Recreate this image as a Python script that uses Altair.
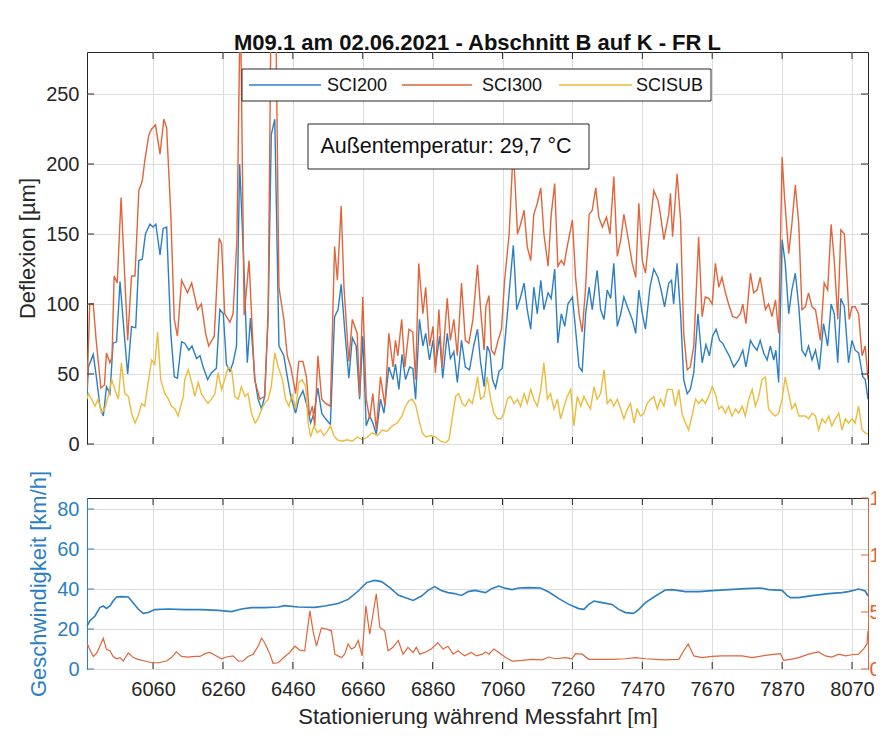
import altair as alt
import pandas as pd

FONT = "Liberation Sans"
BLUE = "#2c7fc3"
ORANGE = "#e0653a"
YELLOW = "#edbb3c"
DARK = "#262626"

series_names = ["SCI200", "SCI300", "SCISUB"]
series_colors = [BLUE, ORANGE, YELLOW]

sci200_station = [5870,5874,5888,5898,5907,5917,5926,5936,5945,5955,5965,5977,5987,5998,6010,6019,6029,6038,6051,6060,
    6068,6080,6089,6099,6111,6121,6130,6142,6151,6163,6172,6185,6195,6204,6217,6228,6242,6252,6262,6271,
    6281,6290,6300,6309,6319,6331,6340,6353,6362,6372,6381,6391,6400,6410,6422,6436,6446,6456,6470,6479,
    6491,6503,6513,6523,6534,6545,6556,6570,6582,6592,6601,6611,6623,6633,6644,6654,6663,6673,6683,6692,
    6702,6714,6724,6738,6750,6757,6767,6776,6786,6798,6807,6815,6826,6836,6844,6855,6865,6872,6884,6893,
    6906,6915,6925,6935,6947,6958,6970,6982,6993,7002,7012,7021,7029,7036,7045,7055,7064,7074,7084,7096,
    7106,7117,7127,7136,7146,7155,7165,7175,7184,7196,7205,7215,7224,7234,7244,7253,7266,7275,7285,7294,
    7304,7314,7323,7337,7347,7357,7366,7376,7385,7395,7405,7414,7424,7438,7448,7457,7467,7476,7489,7500,
    7512,7521,7531,7543,7551,7557,7567,7577,7586,7596,7605,7615,7627,7639,7650,7660,7669,7679,7689,7698,
    7708,7717,7730,7744,7756,7765,7778,7787,7797,7806,7816,7826,7835,7845,7851,7859,7869,7878,7888,7897,
    7907,7917,7926,7936,7945,7955,7965,7976,7988,8000,8010,8019,8029,8038,8048,8060,8070,8079,8089,8101,
    8108,8116]
sci200_value = [34,55,64,46,27,20,41,36,72,73,116,79,50,84,83,131,132,150,157,155,
    157,135,154,155,79,48,47,73,72,67,70,61,63,55,46,51,54,96,93,57,
    52,58,70,200,141,58,90,46,32,25,34,93,221,232,70,63,48,34,22,32,
    38,27,15,22,40,22,18,14,91,96,114,82,47,76,70,32,77,13,20,15,
    7,32,22,55,46,57,39,64,46,55,54,32,89,70,79,60,74,55,77,47,
    79,61,66,44,74,55,53,70,82,58,41,70,65,46,40,52,54,79,108,142,
    96,105,115,96,82,112,93,117,96,108,104,125,72,93,84,100,105,82,55,52,
    93,112,96,124,96,89,110,104,129,84,93,105,98,89,79,110,93,82,112,125,
    119,110,98,115,117,100,129,93,46,36,39,51,93,58,71,63,77,82,74,72,
    67,63,55,60,67,55,74,70,67,74,65,60,70,60,67,44,146,129,93,110,
    122,98,67,63,70,60,67,53,86,70,100,93,58,104,98,58,74,67,65,48,
    46,32]

sci300_station = [5870,5878,5888,5896,5910,5920,5926,5936,5942,5948,5957,5968,5987,5998,6008,6019,6029,6036,6048,6056,
    6067,6080,6091,6099,6111,6121,6130,6142,6159,6171,6188,6199,6211,6220,6236,6250,6257,6266,6281,6290,
    6301,6311,6322,6336,6352,6367,6381,6391,6400,6412,6422,6436,6446,6456,6470,6479,6491,6501,6510,6518,
    6525,6534,6545,6556,6570,6582,6590,6601,6609,6623,6633,6647,6654,6663,6673,6683,6692,6702,6714,6727,
    6738,6750,6757,6764,6775,6784,6796,6807,6815,6824,6836,6844,6855,6865,6872,6882,6891,6906,6915,6925,
    6935,6947,6958,6968,6980,6993,7002,7012,7017,7026,7033,7042,7052,7062,7071,7084,7096,7108,7117,7127,
    7136,7146,7155,7165,7175,7184,7196,7205,7215,7224,7234,7242,7251,7266,7275,7285,7294,7304,7314,7323,
    7333,7342,7352,7364,7374,7385,7395,7405,7414,7424,7438,7448,7457,7467,7476,7489,7500,7512,7519,7529,
    7543,7548,7554,7567,7577,7586,7596,7605,7615,7629,7639,7648,7658,7668,7677,7687,7696,7706,7715,7727,
    7739,7749,7756,7765,7778,7787,7797,7806,7821,7830,7840,7850,7859,7869,7876,7888,7897,7907,7917,7926,
    7936,7945,7955,7965,7979,7990,8000,8010,8019,8029,8038,8048,8056,8062,8070,8079,8089,8099,8108,8116]
sci300_value = [40,100,100,75,40,42,65,58,62,120,115,176,74,120,120,181,188,202,221,225,
    228,207,232,226,164,89,77,117,108,115,96,100,79,70,77,147,143,93,87,93,
    145,320,92,131,46,32,34,93,330,330,112,89,63,55,36,59,59,48,20,27,
    13,63,32,29,27,141,117,170,112,59,89,79,34,105,32,18,36,10,48,27,
    79,55,74,63,89,55,82,80,46,129,93,112,70,84,51,96,55,104,74,89,
    63,115,74,72,89,128,96,67,98,106,67,64,74,82,117,150,212,150,157,167,
    141,131,164,172,183,150,127,164,186,127,131,128,141,160,119,93,80,112,164,167,
    183,162,155,162,150,191,134,146,164,150,129,119,172,131,122,155,181,174,164,146,
    164,179,148,193,160,79,53,55,70,148,91,105,104,100,129,112,119,108,100,91,
    90,93,100,86,122,108,110,119,96,100,91,103,79,205,176,136,157,185,157,96,
    98,108,98,96,74,115,110,157,131,89,153,150,117,89,98,98,93,63,70,46]

scisub_station = [5870,5874,5883,5893,5902,5912,5921,5931,5941,5950,5960,5969,5979,5989,5998,6008,6017,6027,6036,6046,
    6056,6065,6073,6082,6094,6104,6113,6123,6132,6147,6151,6161,6171,6180,6190,6199,6209,6218,6228,6238,
    6247,6257,6266,6276,6286,6295,6305,6314,6324,6333,6343,6353,6362,6372,6381,6391,6400,6410,6420,6432,
    6441,6451,6460,6470,6479,6489,6499,6506,6513,6523,6532,6542,6551,6561,6570,6580,6590,6604,6618,6633,
    6647,6662,6676,6690,6705,6719,6733,6748,6762,6776,6786,6796,6805,6815,6824,6834,6844,6858,6872,6887,
    6901,6911,6920,6930,6939,6949,6958,6968,6978,6987,6993,7002,7012,7021,7031,7040,7050,7060,7069,7079,
    7088,7098,7108,7117,7127,7136,7146,7155,7165,7175,7184,7194,7203,7213,7223,7232,7242,7251,7261,7270,
    7280,7290,7299,7309,7318,7328,7337,7347,7357,7366,7376,7385,7395,7405,7414,7424,7433,7443,7452,7462,
    7472,7481,7491,7500,7510,7519,7529,7539,7553,7562,7572,7581,7591,7600,7610,7620,7629,7639,7648,7658,
    7668,7677,7687,7696,7706,7715,7725,7735,7744,7754,7763,7773,7783,7792,7802,7811,7821,7830,7840,7850,
    7859,7869,7878,7888,7897,7907,7917,7926,7936,7945,7955,7965,7974,7984,7993,8003,8012,8022,8032,8041,
    8051,8060,8070,8079,8089,8099,8108,8116]
scisub_value = [32,36,32,27,32,22,25,34,46,39,32,58,36,34,22,15,20,29,27,44,
    60,57,80,46,36,32,27,25,20,34,46,53,44,34,44,36,32,29,32,36,
    51,39,46,55,53,34,32,41,34,36,22,15,18,25,29,32,41,65,55,46,
    32,27,36,25,44,46,41,15,5,13,8,10,6,9,13,6,3,2,3,2,
    5,3,5,8,6,10,9,13,15,20,27,31,32,28,18,8,5,6,5,2,
    1,3,18,34,36,29,27,32,29,39,48,32,34,48,32,22,18,18,22,32,
    34,29,32,27,36,29,39,32,27,39,58,32,36,25,32,18,27,34,39,13,
    34,27,34,29,25,41,32,36,53,29,32,27,32,25,18,25,29,15,25,20,
    22,29,32,34,25,32,27,39,39,27,39,22,15,10,20,32,29,32,29,34,
    41,36,25,27,22,27,20,25,22,27,20,32,39,27,34,46,48,25,22,20,
    22,32,48,36,25,29,20,20,20,18,22,20,10,18,15,20,13,18,22,10,
    18,15,18,15,27,10,8,7]

speed_station = [5870,5878,5893,5907,5917,5926,5936,5945,5955,5969,5989,6003,6017,6032,6046,6065,6104,6151,6199,6247,
    6286,6314,6343,6381,6420,6439,6477,6525,6554,6592,6621,6650,6674,6697,6717,6741,6765,6784,6808,6832,
    6851,6870,6889,6908,6927,6947,6966,6985,7016,7035,7054,7074,7093,7112,7141,7174,7198,7227,7256,7284,
    7299,7313,7328,7351,7380,7399,7419,7442,7457,7476,7505,7533,7553,7591,7629,7668,7716,7763,7807,7830,
    7869,7883,7893,7917,7955,8003,8041,8060,8089,8108,8116]
speed_kmh = [21.5,24,26.5,30.7,31.5,30.3,31.5,34,36,36.2,36,33,30,27.8,28.2,29.7,30,29.7,29.7,29.3,
    28.7,30,30.7,30.7,31,31.7,31,30.8,31.5,32.7,34.8,39,43.2,44.3,43.7,40.7,37,35.7,34.3,36.5,
    39.3,41.2,39.3,38.2,37.7,36.8,38.7,39.3,38.2,40.3,41.5,40.3,39.7,40.5,40.7,40.5,38.5,35.2,32.3,30.2,
    29.8,32.3,34,33.2,32.3,29.8,28.2,27.8,29.8,33.2,36.5,39.5,39.7,38.7,38.7,39.2,39.7,40.2,40.5,39.7,
    39.3,36.8,35.7,35.7,36.7,37.7,38.2,38.7,40,39,36.5]

right_station = [5870,5878,5888,5898,5907,5917,5926,5936,5945,5955,5965,5974,5989,6003,6017,6036,6056,6075,6099,6113,
    6127,6142,6161,6180,6195,6209,6223,6238,6257,6271,6290,6305,6319,6333,6348,6362,6372,6381,6396,6405,
    6420,6439,6453,6468,6482,6496,6511,6520,6530,6544,6559,6573,6583,6592,6602,6611,6621,6630,6640,6650,
    6661,6672,6683,6702,6712,6726,6736,6750,6765,6779,6793,6808,6817,6827,6841,6860,6879,6894,6908,6923,
    6937,6956,6975,6990,7007,7016,7026,7040,7054,7074,7093,7122,7150,7179,7198,7217,7246,7265,7275,7294,
    7313,7342,7380,7419,7447,7476,7505,7533,7572,7586,7599,7615,7639,7668,7696,7725,7754,7783,7821,7850,
    7864,7874,7893,7917,7945,7974,7993,8012,8032,8051,8070,8089,8103,8113,8116]
right_value = [2.3,1.7,1.1,1.4,2.0,2.7,1.7,1.6,1.1,0.9,1.0,0.7,1.4,1.0,0.85,0.7,0.55,0.55,0.7,1.0,
    1.5,1.1,1.05,1.1,1.1,1.35,1.45,1.2,0.9,1.05,1.15,0.7,0.7,1.1,1.3,2.0,2.7,2.3,1.3,0.5,
    0.55,1.1,1.45,2.0,1.65,1.6,5.1,3.35,2.0,3.6,3.5,3.35,1.3,1.15,1.0,1.3,2.2,1.75,1.9,2.5,
    1.15,5.55,3.05,6.6,3.65,3.35,1.6,1.9,2.5,1.3,1.9,1.45,1.9,1.3,1.45,1.75,2.3,1.75,2.0,1.3,
    1.6,1.15,1.45,1.15,1.3,1.5,1.3,1.75,1.45,1.0,0.7,0.75,0.85,0.8,1.05,0.9,1.0,0.9,1.35,1.3,
    0.85,0.85,0.85,0.9,1.0,0.9,0.85,0.8,0.85,1.6,2.2,1.15,1.0,1.1,1.15,1.15,1.15,1.0,1.2,1.3,
    1.35,0.75,0.85,1.0,1.3,1.5,1.15,1.05,1.3,1.15,1.25,1.3,1.75,2.2,3.35]

x_tick_values = [6060, 6261, 6462, 6663, 6864, 7065, 7266, 7467, 7668, 7869, 8070]
x_tick_labels = ["6060", "6260", "6460", "6660", "6860", "7060", "7260", "7470", "7670", "7870", "8070"]
defl_ticks = [0, 50, 100, 150, 200, 250]
speed_ticks = [0, 20, 40, 60, 80]
right_ticks = [0, 5, 10, 15]
annotation = ["Außentemperatur: 29,7 °C"]
title_text = "M09.1 am 02.06.2021 - Abschnitt B auf K - FR L"

X_DOMAIN = [5870, 8116]

frames = []
for name, st, vals in [("SCI200", sci200_station, sci200_value),
                       ("SCI300", sci300_station, sci300_value),
                       ("SCISUB", scisub_station, scisub_value)]:
    frames.append(pd.DataFrame({"station": st, "value": vals, "series": name}))
df_top = pd.concat(frames, ignore_index=True)
df_speed = pd.DataFrame({"station": speed_station, "speed": speed_kmh})
df_right = pd.DataFrame({"station": right_station, "v": right_value})
df_xt = pd.DataFrame({"station": x_tick_values})
df_yt = pd.DataFrame({"value": defl_ticks})
df_st = pd.DataFrame({"speed": speed_ticks})
df_rt = pd.DataFrame({"v": right_ticks})

label_expr = ("[" + ",".join("'%s'" % l for l in x_tick_labels) + "][indexof(["
              + ",".join(str(v) for v in x_tick_values) + "], datum.value)]")

W = 781
H_TOP = 392
H_BOT = 171
TL = 7  # inward tick length

# ---------------- top panel ----------------
x_top = alt.X("station:Q", scale=alt.Scale(domain=X_DOMAIN, nice=False, zero=False),
              axis=alt.Axis(values=x_tick_values, labels=False, ticks=False, domain=False,
                            title=None, grid=True))
y_top = alt.Y("value:Q", scale=alt.Scale(domain=[0, 280], nice=False),
              axis=alt.Axis(values=defl_ticks, title="Deflexion [µm]", grid=True, domain=False,
                            titlePadding=6))

lines = alt.Chart(df_top).mark_line(clip=True, strokeWidth=1.4).encode(
    x=x_top, y=y_top,
    color=alt.Color("series:N",
                    scale=alt.Scale(domain=series_names, range=series_colors),
                    legend=None),
)

top_ticks = [
    alt.Chart(df_xt).mark_rule(color=DARK, strokeWidth=1).encode(
        x=x_top, y=alt.value(0), y2=alt.value(TL)),
    alt.Chart(df_xt).mark_rule(color=DARK, strokeWidth=1).encode(
        x=x_top, y=alt.value(H_TOP - TL), y2=alt.value(H_TOP)),
    alt.Chart(df_yt).mark_rule(color=DARK, strokeWidth=1).encode(
        y=y_top, x=alt.value(0), x2=alt.value(TL)),
    alt.Chart(df_yt).mark_rule(color=DARK, strokeWidth=1).encode(
        y=y_top, x=alt.value(W - TL), x2=alt.value(W)),
]

# legend drawn as a boxed row of line samples and labels
leg_df = pd.DataFrame({"series": series_names})
leg_box = alt.Chart(leg_df.head(1)).mark_rect(fill="white", stroke=DARK, strokeWidth=1).encode(
    x=alt.value(155), x2=alt.value(624), y=alt.value(17), y2=alt.value(49))
legend_layers = [leg_box]
leg_line_x = [(162, 234), (315, 385), (472, 545)]
leg_text_x = [240, 395, 549]
for i, name in enumerate(series_names):
    d = leg_df[leg_df.series == name]
    legend_layers.append(
        alt.Chart(d).mark_rule(color=series_colors[i], strokeWidth=1.5).encode(
            x=alt.value(leg_line_x[i][0]), x2=alt.value(leg_line_x[i][1]), y=alt.value(33)))
    legend_layers.append(
        alt.Chart(d).mark_text(font=FONT, fontSize=18, color="#111111", align="left",
                               baseline="middle").encode(
            x=alt.value(leg_text_x[i]), y=alt.value(34), text="series:N"))

ann_df = pd.DataFrame({"t": annotation})
ann_box = alt.Chart(ann_df).mark_rect(fill="white", stroke=DARK, strokeWidth=1).encode(
    x=alt.value(221), x2=alt.value(502), y=alt.value(72), y2=alt.value(117))
ann_text = alt.Chart(ann_df).mark_text(font=FONT, fontSize=21.5, color="#111111",
                                       align="center", baseline="middle").encode(
    x=alt.value(359), y=alt.value(95), text="t:N")

top = alt.layer(lines, *top_ticks, *legend_layers, ann_box, ann_text).properties(
    width=W, height=H_TOP,
    title=alt.TitleParams(title_text, font=FONT, fontSize=22, fontWeight="bold",
                          color="#111111", offset=-3, anchor="middle"))

# ---------------- bottom panel ----------------
x_bot = alt.X("station:Q", scale=alt.Scale(domain=X_DOMAIN, nice=False, zero=False),
              axis=alt.Axis(values=x_tick_values, labelExpr=label_expr, grid=True,
                            title="Stationierung während Messfahrt [m]", domain=False,
                            labelPadding=10, titlePadding=7))
y_speed = alt.Y("speed:Q", scale=alt.Scale(domain=[0, 85.5], nice=False),
                axis=alt.Axis(values=speed_ticks, title="Geschwindigkeit [km/h]", grid=True,
                              titleColor=BLUE, labelColor=BLUE, domainColor=BLUE,
                              domain=True, titlePadding=6))
y_right = alt.Y("v:Q", scale=alt.Scale(domain=[0, 15], nice=False),
                axis=alt.Axis(orient="right", values=right_ticks, grid=False, title=None,
                              labelColor=ORANGE, domainColor=ORANGE, domain=True,
                              labelPadding=1))

speed = alt.Chart(df_speed).mark_line(color=BLUE, strokeWidth=1.6).encode(x=x_bot, y=y_speed)
speed_layer = alt.layer(
    speed,
    alt.Chart(df_xt).mark_rule(color=DARK, strokeWidth=1).encode(
        x=x_bot, y=alt.value(0), y2=alt.value(TL)),
    alt.Chart(df_xt).mark_rule(color=DARK, strokeWidth=1).encode(
        x=x_bot, y=alt.value(H_BOT - TL), y2=alt.value(H_BOT)),
    alt.Chart(df_st).mark_rule(color=BLUE, strokeWidth=1).encode(
        y=y_speed, x=alt.value(0), x2=alt.value(TL)),
)
other = alt.Chart(df_right).mark_line(color=ORANGE, strokeWidth=1.2).encode(x=x_bot, y=y_right)
other_layer = alt.layer(
    other,
    alt.Chart(df_rt).mark_rule(color=ORANGE, strokeWidth=1).encode(
        y=y_right, x=alt.value(W - TL), x2=alt.value(W)),
)
bottom = alt.layer(speed_layer, other_layer).resolve_scale(y="independent").properties(
    width=W, height=H_BOT)

chart = alt.vconcat(top, bottom, spacing=14).properties(
    padding={"left": 8, "top": 23, "right": -16, "bottom": 0},
    background="white",
).configure_axis(
    labelFont=FONT, titleFont=FONT, labelFontSize=20, titleFontSize=22,
    titleFontWeight="normal", labelColor=DARK, titleColor=DARK,
    gridColor="#dcdcdc", gridWidth=1, tickSize=0, labelPadding=8,
).configure_view(stroke=DARK, strokeWidth=1)

chart.save("out.html", embed_options={"renderer": "svg", "actions": False})
